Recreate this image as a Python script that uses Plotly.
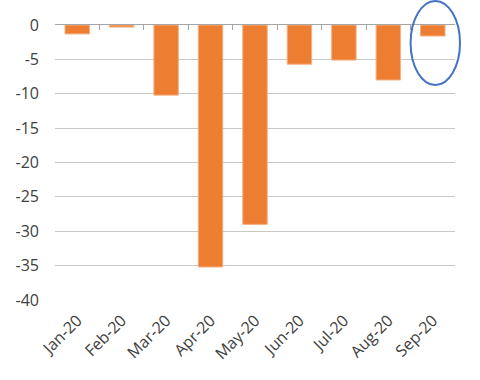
import plotly.graph_objects as go

months = ["Jan-20", "Feb-20", "Mar-20", "Apr-20", "May-20", "Jun-20", "Jul-20", "Aug-20", "Sep-20"]
values = [-1.3, -0.3, -10.2, -35.2, -29.0, -5.7, -5.1, -8.0, -1.6]
y_ticks = [0, -5, -10, -15, -20, -25, -30, -35, -40]

fig = go.Figure()
fig.add_trace(go.Bar(
    x=months, y=values,
    marker=dict(color="#ED7D31", line=dict(color="#F4B183", width=1)),
    width=0.55,
))
fig.add_trace(go.Scatter(x=months, y=[None]*len(months), xaxis="x2", showlegend=False,
                         hoverinfo="skip", mode="markers"))

fig.update_layout(
    width=480, height=380,
    margin=dict(l=55, r=25, t=25, b=80, autoexpand=False),
    paper_bgcolor="white", plot_bgcolor="white",
    showlegend=False,
    font=dict(family="Open Sans, DejaVu Sans, sans-serif", color="#404040", size=16),
    xaxis=dict(type="category", showline=False, ticks="", showgrid=False, automargin=False,
               tickangle=-45, tickfont=dict(size=16), range=[-0.5, 8.5],
               ticklabelstandoff=7),
    xaxis2=dict(type="category", overlaying="x", side="top", matches="x", automargin=False,
                showline=True, linecolor="#A6A6A6", linewidth=1,
                ticks="inside", ticklen=5, tickcolor="#A6A6A6", tickson="boundaries",
                showticklabels=False, showgrid=False),
    yaxis=dict(range=[-40, 0], tickvals=y_ticks, ticktext=[str(v) for v in y_ticks],
               showgrid=True, gridcolor="#C8C8C8", gridwidth=1, zeroline=False, automargin=False,
               showline=False, ticks="", ticklabelstandoff=15),
    shapes=[dict(type="circle", xref="paper", yref="paper",
                 x0=0.889, x1=1.0125, y0=0.782, y1=1.087,
                 line=dict(color="#4472C4", width=2))],
)

fig.write_html("out.html", config={"displayModeBar": False},
               post_script="document.body.style.margin='0';")
